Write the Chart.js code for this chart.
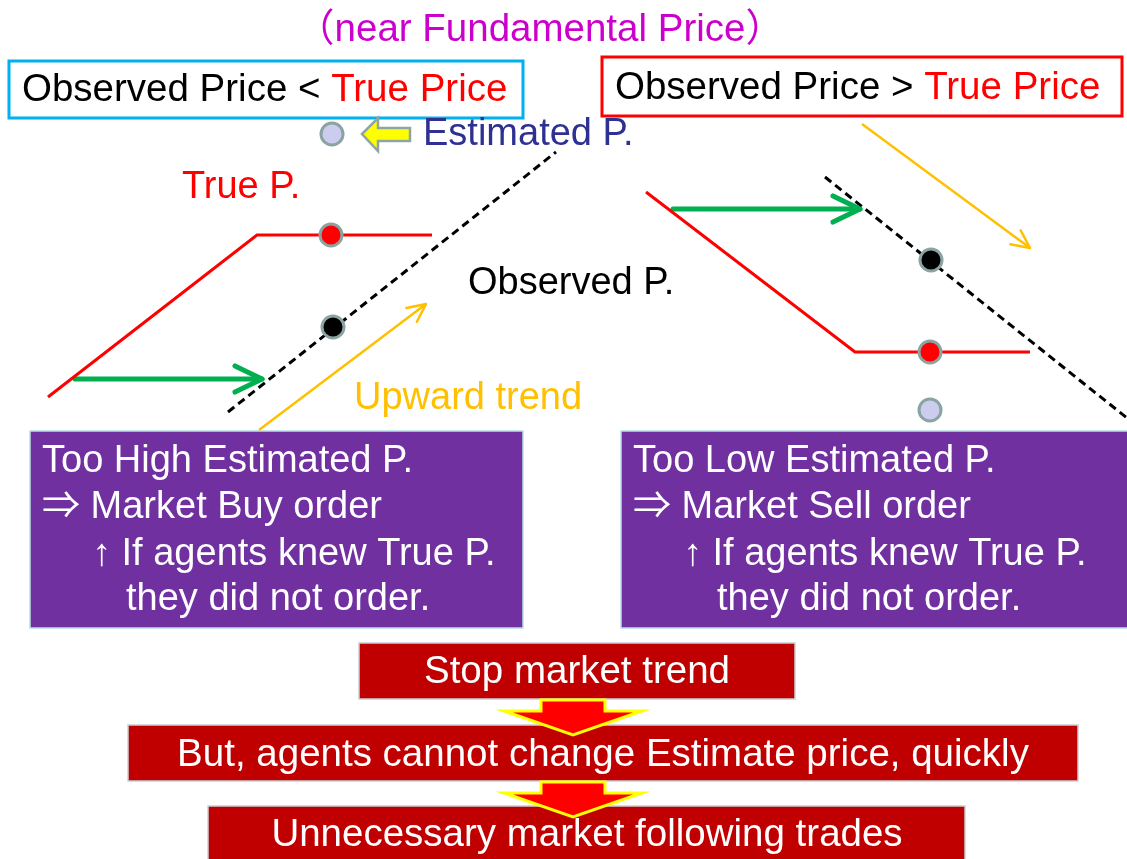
<!DOCTYPE html>
<html>
<head>
<meta charset="utf-8">
<script src="https://cdn.jsdelivr.net/npm/chart.js@4.4.1/dist/chart.umd.min.js"></script>
<style>
  html, body { margin: 0; padding: 0; background: #fff; }
  #wrap { width: 1127px; height: 859px; }
</style>
</head>
<body>
<div id="wrap"><canvas id="diagrama" width="1127" height="859"></canvas></div>
<script>
// ---------------------------------------------------------
// Dados (em unidades do plano 0..1127 x 0..859, y para baixo)
// ---------------------------------------------------------
const trueLeftX = [48, 257, 432];
const trueLeftY = [397, 235, 235];
const obsLeftX = [228, 556];
const obsLeftY = [412, 152];

const trueRightX = [646, 855, 1030];
const trueRightY = [192, 352, 352];
const obsRightX = [825, 1127];
const obsRightY = [177, 418];

const trueDotX = [331, 930];
const trueDotY = [235, 352];
const obsDotX = [333, 931];
const obsDotY = [327, 260];
const estDotX = [332, 930];
const estDotY = [134, 410];

const buyArrowX = [75, 262];
const buyArrowY = [379, 379];
const sellArrowX = [673, 860];
const sellArrowY = [209, 209];

const upTrendX = [259, 426];
const upTrendY = [430, 304];
const downTrendX = [862, 1030];
const downTrendY = [124, 248];

const buyLines = ["Too High Estimated P.", "⇒ Market Buy order", "↑ If agents knew True P.", "they did not order."];
const sellLines = ["Too Low Estimated P.", "⇒ Market Sell order", "↑ If agents knew True P.", "they did not order."];
const flowLines = ["Stop market trend", "But, agents cannot change Estimate price, quickly", "Unnecessary market following trades"];

const FONTE = "'Liberation Sans', Arial, 'Noto Sans CJK JP', sans-serif";

function pontos(xs, ys) {
  return xs.map((x, i) => ({ x: x, y: ys[i] }));
}

function linha(xs, ys, cor, largura, extra) {
  return Object.assign({
    data: pontos(xs, ys),
    showLine: true,
    borderColor: cor,
    borderWidth: largura,
    pointRadius: 0,
    pointHoverRadius: 0,
    fill: false,
    tension: 0,
  }, extra || {});
}

function bolinhas(xs, ys, cor) {
  return {
    data: pontos(xs, ys),
    showLine: false,
    pointRadius: 11,
    pointHoverRadius: 11,
    pointBackgroundColor: cor,
    pointBorderColor: "#8aa3a3",
    pointBorderWidth: 3,
  };
}

// ---------------------------------------------------------
// Caixas, textos e setas desenhados com as escalas do gráfico
// ---------------------------------------------------------
const caixasFundo = [
  { x: 30, y: 431, w: 493, h: 197, fill: "#7030a0", stroke: "#b7e0e6", lw: 1.5 },
  { x: 621, y: 431, w: 510, h: 197, fill: "#7030a0", stroke: "#b7e0e6", lw: 1.5 },
  { x: 359, y: 643, w: 436, h: 56, fill: "#c00000", stroke: "#c8cfd6", lw: 1.5 },
  { x: 128, y: 725, w: 950, h: 56, fill: "#c00000", stroke: "#c8cfd6", lw: 1.5 },
  { x: 208, y: 806, w: 757, h: 60, fill: "#c00000", stroke: "#c8cfd6", lw: 1.5 },
  { x: 9, y: 61, w: 514, h: 57, fill: null, stroke: "#00b0f0", lw: 3 },
  { x: 602, y: 57, w: 520, h: 59, fill: null, stroke: "#ff0000", lw: 3 },
];

const pluginDiagrama = {
  id: "diagrama",
  beforeDatasetsDraw(chart) {
    const { ctx, scales: { x, y } } = chart;
    ctx.save();
    caixasFundo.forEach((c) => {
      const x0 = x.getPixelForValue(c.x), y0 = y.getPixelForValue(c.y);
      const x1 = x.getPixelForValue(c.x + c.w), y1 = y.getPixelForValue(c.y + c.h);
      if (c.fill) {
        ctx.fillStyle = c.fill;
        ctx.fillRect(x0, y0, x1 - x0, y1 - y0);
      }
      ctx.strokeStyle = c.stroke;
      ctx.lineWidth = c.lw;
      ctx.strokeRect(x0, y0, x1 - x0, y1 - y0);
    });
    ctx.restore();
  },
  afterDatasetsDraw(chart) {
    const { ctx, scales: { x, y } } = chart;
    const px = (v) => x.getPixelForValue(v);
    const py = (v) => y.getPixelForValue(v);

    // pontas das setas (abertas)
    chart.data.datasets.forEach((ds) => {
      if (!ds.ponta) return;
      const n = ds.data.length;
      const a = ds.data[n - 2], b = ds.data[n - 1];
      const ang = Math.atan2(py(b.y) - py(a.y), px(b.x) - px(a.x));
      ctx.save();
      ctx.strokeStyle = ds.borderColor;
      ctx.lineWidth = ds.borderWidth;
      ctx.lineCap = "round";
      ctx.lineJoin = "round";
      ctx.beginPath();
      ctx.moveTo(px(b.x) - ds.ponta * Math.cos(ang - 0.45), py(b.y) - ds.ponta * Math.sin(ang - 0.45));
      ctx.lineTo(px(b.x), py(b.y));
      ctx.lineTo(px(b.x) - ds.ponta * Math.cos(ang + 0.45), py(b.y) - ds.ponta * Math.sin(ang + 0.45));
      ctx.stroke();
      ctx.restore();
    });

    // seta amarela vazada apontando para o Estimated P.
    ctx.save();
    ctx.fillStyle = "#ffff00";
    ctx.strokeStyle = "#8fa5a5";
    ctx.lineWidth = 2.5;
    ctx.lineJoin = "miter";
    ctx.beginPath();
    [[362, 134], [378, 118], [378, 128], [410, 128], [410, 141], [378, 141], [378, 151]].forEach((p, i) => {
      if (i === 0) ctx.moveTo(px(p[0]), py(p[1]));
      else ctx.lineTo(px(p[0]), py(p[1]));
    });
    ctx.closePath();
    ctx.fill();
    ctx.stroke();
    ctx.restore();

    // setas vermelhas do fluxo
    [[700, 711, 735], [782, 793, 817]].forEach(([topo, base, bico]) => {
      const cx = 573;
      ctx.save();
      ctx.fillStyle = "#ff0000";
      ctx.strokeStyle = "#ffff00";
      ctx.lineWidth = 3;
      ctx.lineJoin = "miter";
      ctx.beginPath();
      ctx.moveTo(px(cx - 32), py(topo));
      ctx.lineTo(px(cx + 32), py(topo));
      ctx.lineTo(px(cx + 32), py(base));
      ctx.lineTo(px(cx + 69), py(base));
      ctx.lineTo(px(cx), py(bico));
      ctx.lineTo(px(cx - 69), py(base));
      ctx.lineTo(px(cx - 32), py(base));
      ctx.closePath();
      ctx.fill();
      ctx.stroke();
      ctx.restore();
    });

    // textos
    ctx.save();
    ctx.textBaseline = "middle";
    const escreve = (partes, x0, y0, tam, alinha) => {
      ctx.font = `${tam}px ${FONTE}`;
      let total = 0;
      partes.forEach((p) => (total += ctx.measureText(p[0]).width));
      let cx = px(x0);
      if (alinha === "center") cx -= total / 2;
      partes.forEach((p) => {
        ctx.fillStyle = p[1];
        ctx.textAlign = "left";
        ctx.fillText(p[0], cx, py(y0));
        cx += ctx.measureText(p[0]).width;
      });
    };

    escreve([["（near Fundamental Price）", "#cc00cc"]], 540, 30, 38.5, "center");
    escreve([["Observed Price < ", "#000000"], ["True Price", "#ff0000"]], 22, 90, 38.5);
    escreve([["Observed Price > ", "#000000"], ["True Price", "#ff0000"]], 615, 88, 38.5);
    escreve([["Estimated P.", "#2e3192"]], 423, 135, 38);
    escreve([["True P.", "#ff0000"]], 182, 188, 38);
    escreve([["Observed P.", "#000000"]], 468, 284, 38);
    escreve([["Upward trend", "#ffc000"]], 354, 399, 38);

    const recuos = [0, 0, 50, 84];
    const linhasY = [462, 508, 555, 600];
    buyLines.forEach((t, i) => escreve([[t, "#ffffff"]], 42 + recuos[i], linhasY[i], 38));
    sellLines.forEach((t, i) => escreve([[t, "#ffffff"]], 633 + recuos[i], linhasY[i], 38));

    const fluxoX = [577, 603, 587];
    const fluxoY = [672, 755, 835];
    flowLines.forEach((t, i) => escreve([[t, "#ffffff"]], fluxoX[i], fluxoY[i], 38.5, "center"));
    ctx.restore();
  },
};

// ---------------------------------------------------------
// Monta o gráfico
// ---------------------------------------------------------
const graficoDiagrama = new Chart(document.getElementById("diagrama"), {
  type: "scatter",
  data: {
    datasets: [
      bolinhas(trueDotX, trueDotY, "#ff0000"),
      bolinhas(obsDotX, obsDotY, "#000000"),
      bolinhas(estDotX, estDotY, "#ccccee"),
      linha(trueLeftX, trueLeftY, "#ff0000", 3),
      linha(trueRightX, trueRightY, "#ff0000", 3),
      linha(obsLeftX, obsLeftY, "#000000", 3, { borderDash: [8, 5] }),
      linha(obsRightX, obsRightY, "#000000", 3, { borderDash: [8, 5] }),
      linha(buyArrowX, buyArrowY, "#00b050", 5, { ponta: 30, borderCapStyle: "round" }),
      linha(sellArrowX, sellArrowY, "#00b050", 5, { ponta: 30, borderCapStyle: "round" }),
      linha(upTrendX, upTrendY, "#ffc000", 2.5, { ponta: 20 }),
      linha(downTrendX, downTrendY, "#ffc000", 2.5, { ponta: 20 }),
    ],
  },
  options: {
    responsive: false,
    animation: false,
    devicePixelRatio: 1,
    layout: { padding: 0, autoPadding: false },
    plugins: { legend: { display: false }, tooltip: { enabled: false } },
    scales: {
      x: { type: "linear", min: 0, max: 1127, display: false },
      y: { type: "linear", min: 0, max: 859, reverse: true, display: false },
    },
  },
  plugins: [pluginDiagrama],
});
</script>
</body>
</html>
